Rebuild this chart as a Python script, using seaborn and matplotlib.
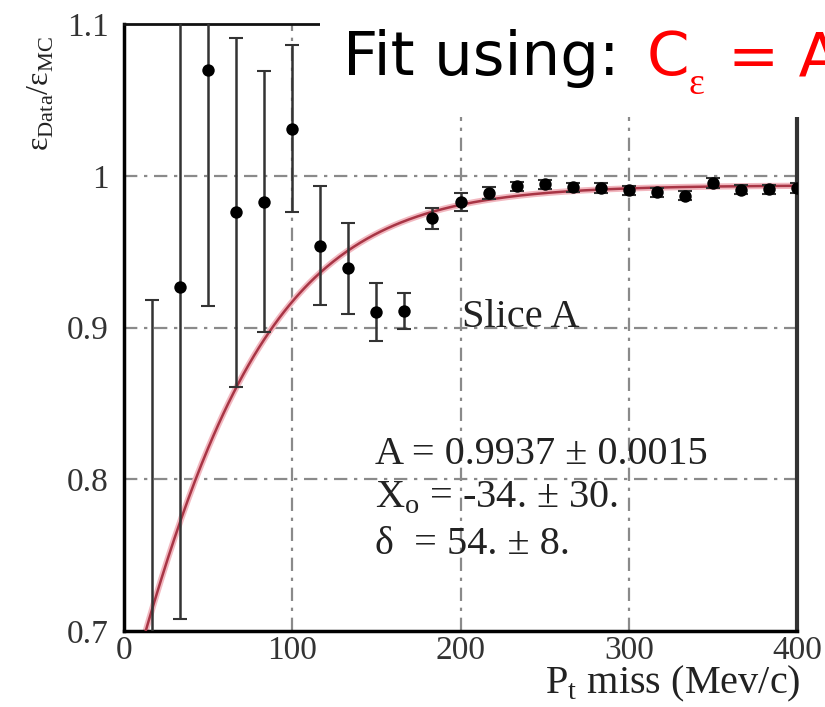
import numpy as np
import pandas as pd
import matplotlib
matplotlib.use("Agg")
import matplotlib.pyplot as plt
from matplotlib.patches import Rectangle
import seaborn as sns

# ---- data ----
p_miss = [16.7, 33.3, 50.0, 66.7, 83.3, 100.0, 116.7, 133.3, 150.0, 166.7,
          183.3, 200.0, 216.7, 233.3, 250.0, 266.7, 283.3, 300.0, 316.7, 333.3,
          350.0, 366.7, 383.3, 400.0]
ratio = [0.620, 0.927, 1.070, 0.976, 0.983, 1.031, 0.954, 0.939, 0.910, 0.911,
         0.972, 0.9825, 0.9886, 0.993, 0.9945, 0.9923, 0.9919, 0.9903, 0.989, 0.9868,
         0.9952, 0.9908, 0.9912, 0.9919]
ratio_err = [0.298, 0.219, 0.156, 0.115, 0.086, 0.055, 0.039, 0.030, 0.019, 0.012,
             0.007, 0.006, 0.004, 0.003, 0.003, 0.003, 0.003, 0.003, 0.003, 0.003,
             0.003, 0.003, 0.003, 0.003]

# fit parameters (printed on the chart)
fit_A = 0.9937
fit_x0 = -34.0
fit_delta = 54.0

x_ticks = [0, 100, 200, 300, 400]
x_tick_labels = ["0", "100", "200", "300", "400"]
y_ticks = [0.7, 0.8, 0.9, 1.0, 1.1]
y_tick_labels = ["0.7", "0.8", "0.9", "1", "1.1"]

df = pd.DataFrame({"p": p_miss, "r": ratio, "e": ratio_err})
xf = np.linspace(0, 400, 400)
fit_df = pd.DataFrame({"p": xf, "c": fit_A / (1.0 + np.exp(-(xf - fit_x0) / fit_delta))})

sns.set_theme(style="white")
serif = ["Liberation Serif", "DejaVu Serif"]
plt.rcParams["mathtext.fontset"] = "custom"
plt.rcParams["mathtext.rm"] = "Liberation Serif"

fig = plt.figure(figsize=(8.25, 7.07), dpi=100)
fig.patch.set_facecolor("white")
ax = fig.add_axes([124 / 825, 1 - 631 / 707, (797 - 124) / 825, (631 - 24) / 707])
ax.set_facecolor("white")

# grid
for gx in [100, 200, 300]:
    ax.axvline(gx, color="#8a8a8a", lw=1.6, ls=(0, (6, 3, 1.5, 3)), zorder=1)
for gy in [0.8, 0.9, 1.0]:
    ax.axhline(gy, color="#8a8a8a", lw=1.6, ls=(0, (6, 3, 1.5, 3)), zorder=1)

# fit curve
sns.lineplot(data=fit_df, x="p", y="c", ax=ax, color="#f2b8c0", lw=4.5, zorder=2)
sns.lineplot(data=fit_df, x="p", y="c", ax=ax, color="#a83545", lw=1.8, zorder=3)

# data points with error bars
ax.errorbar(df["p"], df["r"], yerr=df["e"], fmt="none", ecolor="#333333",
            elinewidth=1.8, capsize=5, capthick=1.5, zorder=4)
sns.scatterplot(data=df, x="p", y="r", ax=ax, color="black", s=80,
                edgecolor="black", linewidth=0, zorder=5)

ax.set_xlim(0, 400)
ax.set_ylim(0.7, 1.1)
ax.set_xticks(x_ticks)
ax.set_xticklabels(x_tick_labels)
ax.set_yticks(y_ticks)
ax.set_yticklabels(y_tick_labels)
ax.set_xticks(np.arange(20, 400, 20), minor=True)
ax.set_yticks(np.arange(0.725, 1.1, 0.025), minor=True)
ax.tick_params(axis="both", which="major", direction="in", length=8, width=1.5,
               colors="#222222", labelsize=24)
ax.tick_params(axis="both", which="minor", direction="in", length=5, width=1.2,
               colors="#222222")
ax.tick_params(axis="y", which="major", pad=11)
ax.tick_params(axis="x", which="major", pad=3)
for lab in ax.get_xticklabels() + ax.get_yticklabels():
    lab.set_family(serif)
    lab.set_color("#333333")
ax.set_xlabel("")
ax.set_ylabel("")

for side in ["left", "bottom"]:
    ax.spines[side].set_color("black")
    ax.spines[side].set_linewidth(2.5)
ax.spines["top"].set_color("#111111")
ax.spines["top"].set_linewidth(2.0)
ax.spines["right"].set_color("#333333")
ax.spines["right"].set_linewidth(3.0)

# annotations
ax.text(201, 0.9005, "Slice A", family=serif, fontsize=29, color="#222222",
        va="baseline", ha="left", zorder=6)
ax.text(149, 0.810, "A = 0.9937 ± 0.0015", family=serif, fontsize=29,
        color="#222222", va="baseline", ha="left", zorder=6)
ax.text(149, 0.7816, r"X$_\mathregular{o}$ = -34. ± 30.", family=serif, fontsize=29,
        color="#222222", va="baseline", ha="left", zorder=6)
ax.text(149, 0.7507, "δ  = 54. ± 8.", family=serif, fontsize=29,
        color="#222222", va="baseline", ha="left", zorder=6)

# axis labels
fig.text(800 / 825, 1 - 693 / 707, r"P$_\mathregular{t}$ miss (Mev/c)", family=serif,
         fontsize=29, color="#222222", ha="right", va="baseline")
fig.text(41 / 825, 1 - 93 / 707, r"ε$_\mathregular{Data}$/ε$_\mathregular{MC}$",
         family=serif, fontsize=23, color="#222222", rotation=90,
         ha="center", va="center")

# white title box covering top right
fig.add_artist(Rectangle((320 / 825, 1 - 117 / 707), 1, 1, transform=fig.transFigure,
                         facecolor="white", edgecolor="none", zorder=5))
fig.text(343 / 825, 1 - 75 / 707, "Fit using:", family="DejaVu Sans", fontsize=44,
         color="black", ha="left", va="baseline", zorder=6)
fig.text(647 / 825, 1 - 75 / 707, "C", family="DejaVu Sans", fontsize=44,
         color="#ff0000", ha="left", va="baseline", zorder=6)
fig.text(689 / 825, 1 - 94 / 707, "ε", family=serif, fontsize=27,
         color="#ff0000", ha="left", va="baseline", zorder=6)
fig.text(728 / 825, 1 - 75 / 707, "= A", family="DejaVu Sans", fontsize=44,
         color="#ff0000", ha="left", va="baseline", zorder=6)

fig.savefig("out.png", dpi=100, facecolor="white")
